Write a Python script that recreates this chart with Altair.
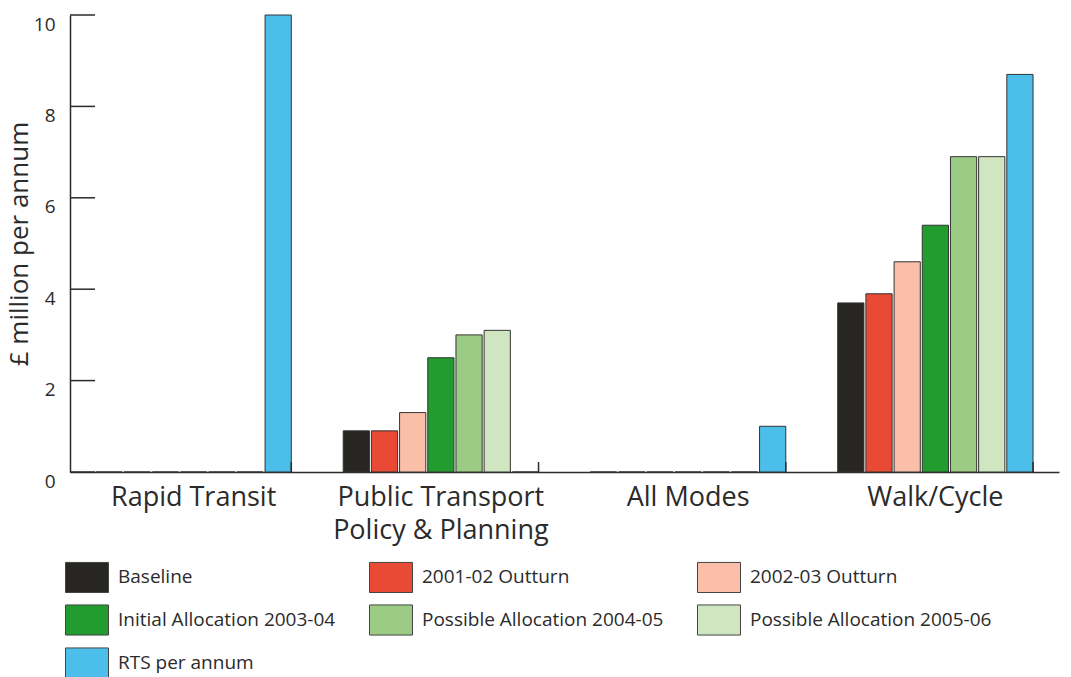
import altair as alt
import pandas as pd

categories = ["Rapid Transit", "Public Transport Policy & Planning", "All Modes", "Walk/Cycle"]
series = ["Baseline", "2001-02 Outturn", "2002-03 Outturn", "Initial Allocation 2003-04",
          "Possible Allocation 2004-05", "Possible Allocation 2005-06", "RTS per annum"]
baseline = [0, 0.9, 0, 3.7]
outturn_0102 = [0, 0.9, 0, 3.9]
outturn_0203 = [0, 1.3, 0, 4.6]
initial_0304 = [0, 2.5, 0, 5.4]
possible_0405 = [0, 3.0, 0, 6.9]
possible_0506 = [0, 3.1, 0, 6.9]
rts = [10, 0, 1.0, 8.7]
colors = ["#282622", "#E84A35", "#FBBFA9", "#229C2E", "#9BCB85", "#CFE6C1", "#4BBEEA"]
y_ticks = [0, 2, 4, 6, 8, 10]

all_vals = [baseline, outturn_0102, outturn_0203, initial_0304, possible_0405, possible_0506, rts]
rows = []
for s, vals in zip(series, all_vals):
    for c, v in zip(categories, vals):
        rows.append({"category": c, "series": s, "value": v})
df = pd.DataFrame(rows)
tick_df = pd.DataFrame({"t": y_ticks})
cat_df = pd.DataFrame({"category": categories})

FONT = "Open Sans"
TXT = "#2b2b2b"
W, H = 989, 457

xscale = alt.Scale(domain=categories, paddingInner=0.21, paddingOuter=0.105)
yscale = alt.Scale(domain=[0, 10], nice=False)

bars = alt.Chart(df).mark_bar(stroke="#333333", strokeWidth=1).encode(
    x=alt.X("category:N", scale=xscale, sort=categories,
            axis=alt.Axis(title=None, labelAngle=0, ticks=False, tickSize=0, domainColor=TXT,
                          domainWidth=1.5, labelFontSize=27, labelFont=FONT, labelColor=TXT,
                          labelPadding=12, labelLineHeight=33, labelLimit=500,
                          labelExpr="datum.label == 'Public Transport Policy & Planning' ? ['Public Transport', 'Policy & Planning'] : datum.label")),
    xOffset=alt.XOffset("series:N", sort=series, scale=alt.Scale(paddingInner=0.07)),
    y=alt.Y("value:Q", scale=yscale,
            axis=alt.Axis(title="£ million per annum", values=y_ticks, ticks=False, tickSize=0,
                          grid=False, domainColor=TXT, domainWidth=1.5, labelFontSize=19,
                          labelFont=FONT, labelColor=TXT, labelPadding=15, labelBaseline="top",
                          labelOffset=0, titleFontSize=26, titleFont=FONT, titleColor=TXT,
                          titleFontWeight="normal", titlePadding=1)),
    color=alt.Color("series:N", sort=series, scale=alt.Scale(domain=series, range=colors),
                    legend=alt.Legend(title=None, orient="none", legendX=-5, legendY=540,
                                      columns=3, direction="horizontal",
                                      symbolType="M-1,-0.7L1,-0.7L1,0.7L-1,0.7Z", symbolSize=1849,
                                      symbolStrokeColor="#444444", symbolStrokeWidth=1,
                                      symbolOpacity=1,
                                      labelFontSize=19, labelFont=FONT, labelColor=TXT,
                                      labelOffset=9, columnPadding=31, rowPadding=3,
                                      labelLimit=400)),
)

yticks = alt.Chart(tick_df).mark_rule(color=TXT, strokeWidth=1.5).encode(
    y=alt.Y("t:Q", scale=yscale), x=alt.value(0), x2=alt.value(25)
)

xticks = alt.Chart(cat_df).mark_rule(color=TXT, strokeWidth=1.5).encode(
    x=alt.X("category:N", scale=xscale, sort=categories, bandPosition=1),
    y=alt.value(H - 10), y2=alt.value(H)
)

chart = alt.layer(bars, yticks, xticks).properties(
    width=W, height=H,
    background="white",
    autosize=alt.AutoSizeParams(type="none"),
    padding={"left": 70, "top": 15, "right": 12, "bottom": 205},
).configure_view(stroke=None)

chart.save("out.html", embed_options={"renderer": "svg", "actions": False})
